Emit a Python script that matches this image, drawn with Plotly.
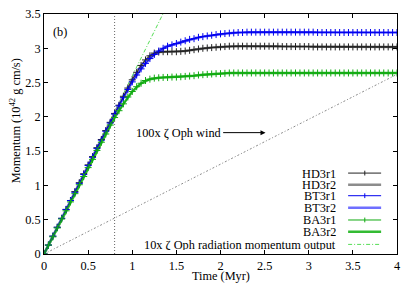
import plotly.graph_objects as go

# ---- data -------------------------------------------------------------
t_r1 = [0.00, 0.05, 0.10, 0.15, 0.20, 0.25, 0.30, 0.35, 0.40, 0.45,
        0.50, 0.55, 0.60, 0.65, 0.70, 0.75, 0.80, 0.85, 0.90, 0.95,
        1.00, 1.05, 1.10, 1.15, 1.20, 1.25, 1.30, 1.35, 1.40, 1.45,
        1.50, 1.55, 1.60, 1.65, 1.70, 1.75, 1.80, 1.85, 1.90, 1.95,
        2.00, 2.05, 2.10, 2.15, 2.20, 2.25, 2.30, 2.35, 2.40, 2.45,
        2.50, 2.55, 2.60, 2.65, 2.70, 2.75, 2.80, 2.85, 2.90, 2.95,
        3.00, 3.05, 3.10, 3.15, 3.20, 3.25, 3.30, 3.35, 3.40, 3.45,
        3.50, 3.55, 3.60, 3.65, 3.70, 3.75, 3.80, 3.85, 3.90, 3.95, 4.00]

hd3r1 = [0, 0.13, 0.26, 0.39, 0.52, 0.65, 0.78, 0.91, 1.04, 1.17,
         1.30, 1.42, 1.55, 1.67, 1.80, 1.92, 2.05, 2.17, 2.30, 2.42,
         2.54, 2.65, 2.75, 2.83, 2.89, 2.93, 2.945, 2.95, 2.95, 2.95,
         2.95, 2.955, 2.96, 2.97, 2.98, 2.99, 3.00, 3.005, 3.01, 3.015,
         3.02, 3.025, 3.03, 3.03, 3.03, 3.03, 3.03, 3.03, 3.03, 3.03,
         3.03, 3.03, 3.03, 3.03, 3.025, 3.025, 3.025, 3.025, 3.025, 3.025,
         3.025, 3.02, 3.02, 3.02, 3.02, 3.02, 3.02, 3.02, 3.02, 3.02,
         3.02, 3.02, 3.02, 3.02, 3.02, 3.02, 3.02, 3.02, 3.02, 3.02, 3.02]

bt3r1 = [0, 0.13, 0.26, 0.39, 0.52, 0.65, 0.78, 0.90, 1.03, 1.16,
         1.29, 1.41, 1.54, 1.66, 1.79, 1.91, 2.04, 2.16, 2.28, 2.40,
         2.51, 2.61, 2.70, 2.78, 2.85, 2.91, 2.96, 3.00, 3.03, 3.05,
         3.07, 3.09, 3.11, 3.13, 3.14, 3.16, 3.17, 3.18, 3.19, 3.20,
         3.21, 3.215, 3.22, 3.225, 3.23, 3.23, 3.235, 3.235, 3.235, 3.235,
         3.235, 3.235, 3.235, 3.235, 3.235, 3.235, 3.235, 3.235, 3.235, 3.235,
         3.235, 3.235, 3.23, 3.23, 3.23, 3.23, 3.23, 3.23, 3.23, 3.23,
         3.23, 3.23, 3.23, 3.23, 3.23, 3.23, 3.23, 3.23, 3.23, 3.23, 3.23]

ba3r1 = [0, 0.13, 0.25, 0.38, 0.51, 0.63, 0.76, 0.88, 1.01, 1.13,
         1.26, 1.38, 1.51, 1.63, 1.75, 1.88, 1.99, 2.09, 2.19, 2.29,
         2.37, 2.44, 2.49, 2.53, 2.55, 2.565, 2.57, 2.575, 2.575, 2.58,
         2.58, 2.585, 2.59, 2.595, 2.60, 2.61, 2.615, 2.62, 2.625, 2.63,
         2.63, 2.635, 2.64, 2.64, 2.64, 2.64, 2.64, 2.64, 2.64, 2.64,
         2.64, 2.64, 2.64, 2.64, 2.64, 2.64, 2.64, 2.64, 2.64, 2.64,
         2.64, 2.64, 2.64, 2.64, 2.64, 2.64, 2.64, 2.64, 2.64, 2.64,
         2.64, 2.64, 2.64, 2.64, 2.64, 2.64, 2.64, 2.64, 2.64, 2.64, 2.64]

t_r2 = [0.0, 0.1, 0.2, 0.3, 0.4, 0.5, 0.6, 0.7, 0.8, 0.9,
        1.0, 1.1, 1.2, 1.3, 1.4, 1.5, 1.6, 1.7, 1.8, 1.9,
        2.0, 2.1, 2.2, 2.3, 2.4, 2.5, 2.6, 2.7, 2.8, 2.9,
        3.0, 3.1, 3.2, 3.3, 3.4, 3.5, 3.6, 3.7, 3.8, 3.9, 4.0]

hd3r2 = [0, 0.26, 0.52, 0.78, 1.04, 1.30, 1.55, 1.80, 2.05, 2.30,
         2.54, 2.75, 2.89, 2.945, 2.95, 2.95, 2.96, 2.98, 3.00, 3.01,
         3.02, 3.03, 3.03, 3.03, 3.03, 3.03, 3.03, 3.025, 3.025, 3.025,
         3.025, 3.02, 3.02, 3.02, 3.02, 3.02, 3.02, 3.02, 3.02, 3.02, 3.02]

bt3r2 = [0, 0.26, 0.52, 0.78, 1.03, 1.29, 1.54, 1.79, 2.04, 2.28,
         2.51, 2.70, 2.85, 2.96, 3.03, 3.07, 3.11, 3.14, 3.17, 3.19,
         3.21, 3.22, 3.23, 3.235, 3.235, 3.235, 3.235, 3.235, 3.235, 3.235,
         3.235, 3.23, 3.23, 3.23, 3.23, 3.23, 3.23, 3.23, 3.23, 3.23, 3.23]

ba3r2 = [0, 0.25, 0.51, 0.76, 1.01, 1.26, 1.51, 1.75, 1.99, 2.19,
         2.37, 2.49, 2.55, 2.57, 2.575, 2.58, 2.59, 2.60, 2.615, 2.625,
         2.63, 2.64, 2.64, 2.64, 2.64, 2.64, 2.64, 2.64, 2.64, 2.64,
         2.64, 2.64, 2.64, 2.64, 2.64, 2.64, 2.64, 2.64, 2.64, 2.64, 2.64]

wind_t = [0, 4]
wind_p = [0, 2.62]          # 100x zeta Oph wind
rad_t = [0, 4]
rad_p = [0, 10.39]          # 10x zeta Oph radiation momentum output
t_mark = 0.8                # vertical dotted marker

x_ticks = [0, 0.5, 1, 1.5, 2, 2.5, 3, 3.5, 4]
y_ticks = [0, 0.5, 1, 1.5, 2, 2.5, 3, 3.5]

FONT = "Liberation Serif"
FS = 12.3

fig = go.Figure()

# reference lines
fig.add_trace(go.Scatter(x=wind_t, y=wind_p, mode="lines",
                         line=dict(color="#8a8a8a", width=1, dash="2px,2px,1px,2px"),
                         showlegend=False))
fig.add_trace(go.Scatter(x=rad_t, y=rad_p, mode="lines",
                         line=dict(color="#55dd55", width=1, dash="4px,2px,1px,2px"),
                         showlegend=False))
fig.add_trace(go.Scatter(x=[t_mark, t_mark], y=[0, 3.5], mode="lines",
                         line=dict(color="#666666", width=1, dash="1px,2px"),
                         showlegend=False))

# r2 runs (thick, lighter)
series_r2 = [
    (hd3r2, "#8c8c8c"),
    (bt3r2, "#6f6fff"),
    (ba3r2, "#33bb33"),
]
for ys, col in series_r2:
    fig.add_trace(go.Scatter(x=t_r2, y=ys, mode="lines",
                             line=dict(color=col, width=2.5),
                             showlegend=False))

# r1 runs (thin with + markers)
series_r1 = [
    (hd3r1, "#222222"),
    (bt3r1, "#0000ee"),
    (ba3r1, "#11aa11"),
]
for ys, col in series_r1:
    fig.add_trace(go.Scatter(x=t_r1, y=ys, mode="lines+markers",
                             line=dict(color=col, width=1),
                             marker=dict(symbol="cross-thin", size=5,
                                         line=dict(color=col, width=1)),
                             showlegend=False))

# ---- manual gnuplot-style key ------------------------------------------
key = [
    ("HD3r1", "#222222", 1, "solid", True),
    ("HD3r2", "#8c8c8c", 2.5, "solid", False),
    ("BT3r1", "#0000ee", 1, "solid", True),
    ("BT3r2", "#6f6fff", 2.5, "solid", False),
    ("BA3r1", "#11aa11", 1, "solid", True),
    ("BA3r2", "#33bb33", 2.5, "solid", False),
    ("10x \u03b6 Oph radiation momentum output", "#55dd55", 1, "4px,2px,1px,2px", False),
]
key_y = [1.18, 1.01, 0.85, 0.673, 0.496, 0.326, 0.14]
shapes = []
annotations = []
for (label, col, w, dash, mk), yy in zip(key, key_y):
    annotations.append(dict(x=3.325, y=yy, xref="x", yref="y", text=label,
                            showarrow=False, xanchor="right", yanchor="middle",
                            height=11, borderpad=0,
                            font=dict(family=FONT, size=FS, color="black")))
    shapes.append(dict(type="line", xref="x", yref="y", x0=3.446, x1=3.82,
                       y0=yy, y1=yy, line=dict(color=col, width=w, dash=dash)))
    if mk:
        shapes.append(dict(type="line", xref="x", yref="y", x0=3.635, x1=3.635,
                           y0=yy - 0.035, y1=yy + 0.035,
                           line=dict(color=col, width=1)))

annotations.append(dict(x=0.186, y=3.24, xref="x", yref="y", text="(b)",
                        showarrow=False, font=dict(family=FONT, size=FS)))
annotations.append(dict(x=2.51, y=1.77, ax=2.03, ay=1.77, xref="x", yref="y",
                        axref="x", ayref="y", text="100x \u03b6 Oph wind",
                        xanchor="right", showarrow=True,
                        arrowhead=2, arrowsize=1, arrowwidth=1,
                        arrowcolor="black", font=dict(family=FONT, size=FS)))
# axis titles
annotations.append(dict(x=0.5, y=-0.09, xref="paper", yref="paper",
                        text="Time (Myr)", showarrow=False,
                        yanchor="middle", font=dict(family=FONT, size=FS)))
annotations.append(dict(x=-0.082, y=0.553, xref="paper", yref="paper",
                        text="Momentum (10<sup>42</sup> g cm/s)", textangle=-90,
                        showarrow=False, xanchor="center", yanchor="middle",
                        font=dict(family=FONT, size=FS)))

axis_common = dict(showline=True, linecolor="black", linewidth=1,
                   mirror="ticks", ticks="inside", ticklen=4,
                   tickcolor="black", showgrid=False, zeroline=False,
                   ticklabeloverflow="allow",
                   tickfont=dict(family=FONT, size=FS, color="black"))

fig.update_layout(
    width=407, height=285,
    margin=dict(l=44, r=9, t=7, b=31),
    plot_bgcolor="white", paper_bgcolor="white",
    font=dict(family=FONT, size=FS, color="black"),
    shapes=shapes, annotations=annotations,
    xaxis=dict(range=[0, 4], tickvals=x_ticks, **axis_common),
    yaxis=dict(range=[0, 3.5], tickvals=y_ticks, **axis_common),
)

fig.write_html("out.html",
               config={"displayModeBar": False},
               post_script="document.body.style.margin='0px';"
                           "document.body.style.overflow='hidden';")
